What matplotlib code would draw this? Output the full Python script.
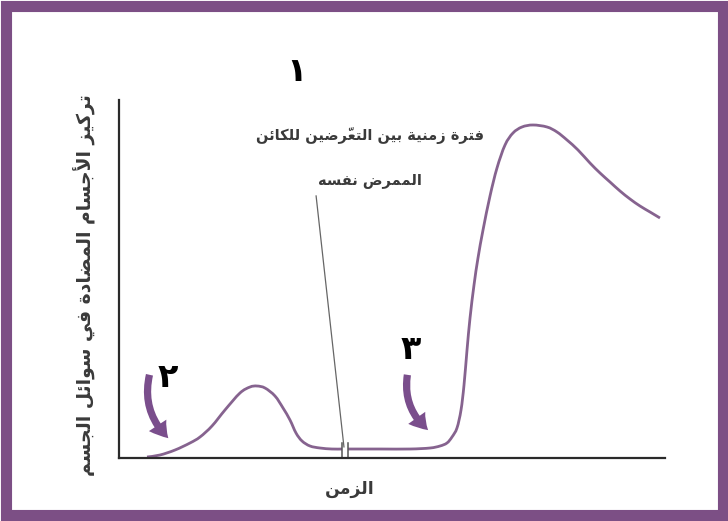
import matplotlib
matplotlib.use("Agg")
import matplotlib.pyplot as plt
import numpy as np
from matplotlib.patches import FancyArrowPatch, Rectangle, PathPatch
from matplotlib.path import Path

PURPLE = "#86638f"; ARROW = "#7a4e8c"; FRAME = "#7c4f85"; INK = "#3a3a3a"

# ── data: antibody concentration vs time (two exposures, axis break between) ──
t1 = [5.13, 7.51, 10.26, 13.0, 14.84, 17.03, 19.41, 22.16, 23.99, 25.27, 26.74,
      28.57, 30.04, 31.32, 32.42, 33.52, 34.98, 36.81, 39.01, 40.84]
c1 = [0.28, 0.84, 2.23, 4.19, 5.87, 8.94, 13.41, 18.16, 19.83, 20.11, 19.55,
      17.32, 13.97, 10.61, 6.98, 4.75, 3.35, 2.79, 2.51, 2.51]
t2 = [41.94, 47.80, 53.30, 56.96, 58.79, 60.07, 60.99, 61.90, 62.64, 63.19, 63.74,
      64.29, 65.02, 65.75, 66.67, 67.95, 69.23, 70.70, 72.16, 73.81, 75.82, 78.39,
      80.22, 82.05, 84.07, 86.26, 88.10, 89.93, 91.76, 93.59, 95.42, 97.25, 99.08]
c2 = [2.51, 2.51, 2.51, 2.79, 3.35, 4.19, 5.87, 8.38, 13.41, 20.39, 30.17,
      39.11, 48.32, 55.87, 63.69, 73.18, 81.01, 87.43, 90.78, 92.46, 93.02, 92.46,
      91.06, 88.83, 86.03, 82.40, 79.61, 77.09, 74.58, 72.35, 70.39, 68.72, 67.04]
break_x = [40.84, 41.94]

NOTE = ["فترة زمنية بين التعرّضين للكائن", "الممرض نفسه"]
XLABEL = "الزمن"
YLABEL = "تركيز الأجسام المضادة في سوائل الجسم"
MARKS = ["١", "٢", "٣"]

# ── minimal Arabic shaping (matplotlib has no bidi / joining) ─────────────
# isolated, final, initial, medial
FORMS = {
    "ا": (0xFE8D, 0xFE8E, None, None), "أ": (0xFE83, 0xFE84, None, None),
    "ب": (0xFE8F, 0xFE90, 0xFE91, 0xFE92), "ة": (0xFE93, 0xFE94, None, None),
    "ت": (0xFE95, 0xFE96, 0xFE97, 0xFE98), "ج": (0xFE9D, 0xFE9E, 0xFE9F, 0xFEA0),
    "د": (0xFEA9, 0xFEAA, None, None), "ر": (0xFEAD, 0xFEAE, None, None),
    "ز": (0xFEAF, 0xFEB0, None, None), "س": (0xFEB1, 0xFEB2, 0xFEB3, 0xFEB4),
    "ض": (0xFEBD, 0xFEBE, 0xFEBF, 0xFEC0), "ع": (0xFEC9, 0xFECA, 0xFECB, 0xFECC),
    "ف": (0xFED1, 0xFED2, 0xFED3, 0xFED4), "ك": (0xFED9, 0xFEDA, 0xFEDB, 0xFEDC),
    "ل": (0xFEDD, 0xFEDE, 0xFEDF, 0xFEE0), "م": (0xFEE1, 0xFEE2, 0xFEE3, 0xFEE4),
    "ن": (0xFEE5, 0xFEE6, 0xFEE7, 0xFEE8), "ه": (0xFEE9, 0xFEEA, 0xFEEB, 0xFEEC),
    "و": (0xFEED, 0xFEEE, None, None), "ي": (0xFEF1, 0xFEF2, 0xFEF3, 0xFEF4),
    "ئ": (0xFE89, 0xFE8A, 0xFE8B, 0xFE8C),
    "لا": (0xFEFB, 0xFEFC, None, None), "لأ": (0xFEF7, 0xFEF8, None, None),
}
MARKS_COMB = {"\u0651", "\u064E", "\u064F", "\u0650", "\u0652"}


def shape(s):
    toks = []  # [base, marks]
    i = 0
    while i < len(s):
        c = s[i]
        if c in MARKS_COMB and toks:
            toks[-1][1] += c; i += 1; continue
        if c == "ل" and i + 1 < len(s) and s[i + 1] in "اأ":
            toks.append([c + s[i + 1], ""]); i += 2; continue
        toks.append([c, ""]); i += 1
    out = []
    for k, (b, m) in enumerate(toks):
        if b not in FORMS:
            out.append(b + m); continue
        f = FORMS[b]
        prv = k > 0 and toks[k - 1][0] in FORMS and FORMS[toks[k - 1][0]][2] is not None
        nxt = k + 1 < len(toks) and toks[k + 1][0] in FORMS
        if prv and nxt and f[3]: g = f[3]
        elif prv: g = f[1]
        elif nxt and f[2]: g = f[2]
        else: g = f[0]
        out.append(chr(g) + m)
    return "".join(reversed(out))


def smooth_path(x, y):
    # Catmull-Rom through the points, drawn as cubic Bezier segments
    P = np.column_stack([x, y]).astype(float)
    verts = [P[0]]; codes = [Path.MOVETO]
    n = len(P)
    for i in range(n - 1):
        p0 = P[i - 1] if i > 0 else P[i]
        p1, p2 = P[i], P[i + 1]
        p3 = P[i + 2] if i + 2 < n else P[i + 1]
        verts += [p1 + (p2 - p0) / 6, p2 - (p3 - p1) / 6, p2]
        codes += [Path.CURVE4] * 3
    return Path(verts, codes)


plt.rcParams["font.family"] = ["DejaVu Sans"]
fig = plt.figure(figsize=(7.28, 5.21), dpi=100)
fig.patch.set_facecolor("white")
fig.patches.append(Rectangle((6 / 728, 6 / 521), 717 / 728, 509 / 521, transform=fig.transFigure,
                             fill=False, edgecolor=FRAME, linewidth=8, zorder=10))

ax = fig.add_axes([119 / 728, 63 / 521, 546 / 728, 358 / 521])
ax.set_xlim(0, 100); ax.set_ylim(0, 100)
for sp in ("top", "right"):
    ax.spines[sp].set_visible(False)
for sp in ("left", "bottom"):
    ax.spines[sp].set_linewidth(1.6); ax.spines[sp].set_color("#2a2a2a")
ax.set_xticks([]); ax.set_yticks([])

for tx, cy in ((t1, c1), (t2, c2)):
    ax.add_patch(PathPatch(smooth_path(tx, cy), fill=False, edgecolor=PURPLE,
                           lw=2.0, capstyle="butt"))
for bx in break_x:
    ax.plot([bx, bx], [0.4, 4.2], color="#555555", lw=1.1)

# leader line from the note down to the break
ax.plot([36.1, 41.2], [73.2, 3.1], color="#666666", lw=0.9)

for k, line in enumerate(NOTE):
    ax.text(46.0, 90.2 - 12.8 * k, shape(line), ha="center", va="center",
            fontsize=10.5, fontweight="bold", color=INK)
ax.text(42.3, -8.6, shape(XLABEL), ha="center", va="center", fontsize=12.5,
        fontweight="bold", color=INK)
ax.text(-6.3, 48.3, shape(YLABEL), ha="center", va="center", rotation=90,
        fontsize=13.5, fontweight="bold", color=INK)

ax.text(32.6, 108.0, MARKS[0], ha="center", va="center", fontsize=24, fontweight="bold", color="black")
ax.text(9.0, 22.4, MARKS[1], ha="center", va="center", fontsize=24, fontweight="bold", color="black")
ax.text(53.5, 30.2, MARKS[2], ha="center", va="center", fontsize=24, fontweight="bold", color="black")

arrow_kw = dict(arrowstyle="simple,head_width=15,head_length=12,tail_width=5.2",
                color=ARROW, mutation_scale=1, lw=0)
ax.add_patch(FancyArrowPatch((5.7, 24.0), (9.4, 5.0), connectionstyle="arc3,rad=0.3", **arrow_kw))
ax.add_patch(FancyArrowPatch((52.9, 24.0), (57.0, 7.3), connectionstyle="arc3,rad=0.3", **arrow_kw))

fig.savefig("out.png", dpi=100, facecolor="white")
